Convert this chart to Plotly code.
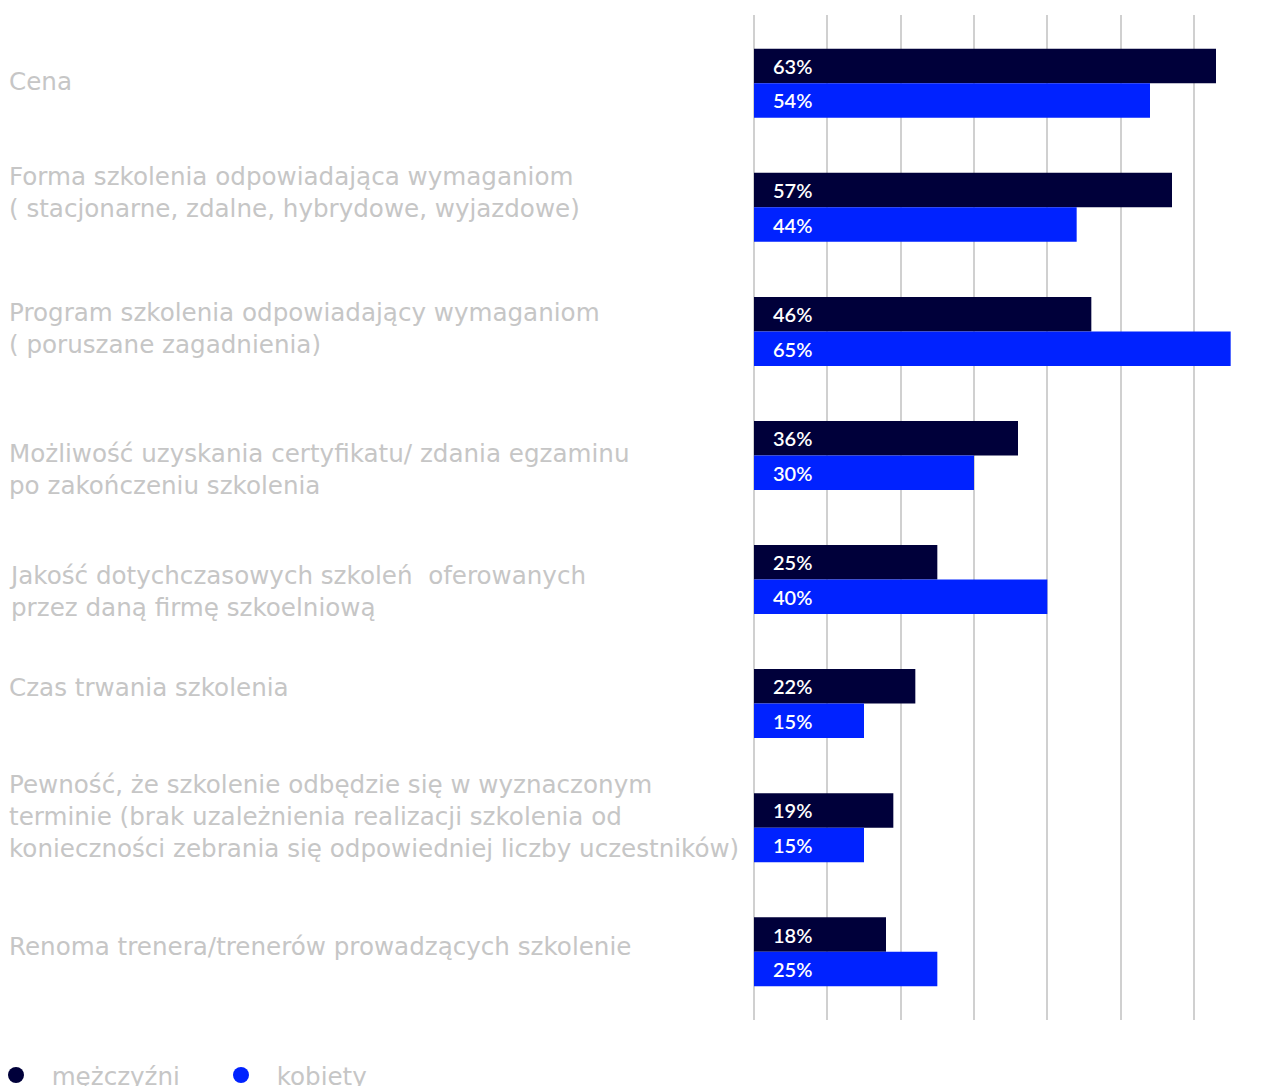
import plotly.graph_objects as go

# Survey: factors influencing the choice of a training offer, by gender (%)
categories = [
    "Cena",
    "Forma szkolenia odpowiadająca wymaganiom<br>( stacjonarne, zdalne, hybrydowe, wyjazdowe)",
    "Program szkolenia odpowiadający wymaganiom<br>( poruszane zagadnienia)",
    "Możliwość uzyskania certyfikatu/ zdania egzaminu<br>po zakończeniu szkolenia",
    "Jakość dotychczasowych szkoleń  oferowanych<br>przez daną firmę szkoelniową",
    "Czas trwania szkolenia",
    "Pewność, że szkolenie odbędzie się w wyznaczonym<br>terminie (brak uzależnienia realizacji szkolenia od<br>konieczności zebrania się odpowiedniej liczby uczestników)",
    "Renoma trenera/trenerów prowadzących szkolenie",
]
men = [63, 57, 46, 36, 25, 22, 19, 18]
women = [54, 44, 65, 30, 40, 15, 15, 25]
series_names = ["mężczyźni", "kobiety"]

# styling
colors = ["#00003a", "#0022ff"]
label_color = "#c6c6c6"
label_font = "DejaVu Sans"
label_size = 24.6
label_shift = [2, 15, 3, -14, -12, 16, 11, 5]  # vertical nudge of category labels (px)

W, H = 1262, 1086
ML, MR, MT, MB = 754, 8, 15, 66
PW, PH = W - ML - MR, H - MT - MB
px_per_pct = 440 / 60
x_max = PW / px_per_pct

bargap = 0.444
ypos = list(range(len(categories)))

fig = go.Figure()
for name, vals, col in zip(series_names, [men, women], colors):
    fig.add_trace(go.Bar(
        y=ypos, x=vals, orientation="h", name=name,
        marker=dict(color=col, line=dict(width=0)),
        showlegend=False, hoverinfo="x+name",
    ))
    # circle swatches for the legend
    fig.add_trace(go.Scatter(
        x=[None], y=[None], mode="markers", name="\u00a0\u00a0" + name,
        marker=dict(symbol="circle", size=21, color=col),
        showlegend=True,
    ))

# value labels at the base of each bar
half = (1 - bargap) / 2
for k, vals in enumerate([men, women]):
    off = (-half / 2) if k == 0 else (half / 2)
    for i, v in enumerate(vals):
        fig.add_annotation(
            x=0, y=i + off, xref="x", yref="y", text=f"{v}%",
            showarrow=False, xanchor="left", yanchor="middle", xshift=17,
            font=dict(family="Lato", size=20, color="white", weight=600),
        )

# category labels, left-aligned at the left edge of the page
for i, (cat, dy) in enumerate(zip(categories, label_shift)):
    fig.add_annotation(
        x=(7 - ML) / PW, y=i, xref="paper", yref="y",
        text=cat, showarrow=False, xanchor="left", yanchor="middle",
        align="left", yshift=dy,
        font=dict(family=label_font, size=label_size, color=label_color),
    )

fig.update_layout(
    width=W, height=H,
    margin=dict(l=ML, r=MR, t=MT, b=MB, autoexpand=False),
    paper_bgcolor="white", plot_bgcolor="white",
    barmode="group", bargap=bargap, bargroupgap=0,
    xaxis=dict(range=[0, x_max], dtick=10, showgrid=True, gridcolor="#d0d0d0",
               gridwidth=2, zeroline=True, zerolinecolor="#d0d0d0", zerolinewidth=2,
               showticklabels=False, showline=False, fixedrange=True),
    yaxis=dict(range=[7.55, -0.55], showticklabels=False, showgrid=False,
               zeroline=False, showline=False, fixedrange=True),
    legend=dict(orientation="h", x=(-4 - ML) / PW, xanchor="left",
                y=-(1075 - (H - MB)) / PH, yanchor="middle",
                font=dict(family=label_font, size=label_size, color=label_color),
                itemwidth=30, entrywidth=180, entrywidthmode="pixels",
                tracegroupgap=0, bgcolor="rgba(0,0,0,0)"),
    font=dict(family=label_font),
)

fig.write_html("out.html")
